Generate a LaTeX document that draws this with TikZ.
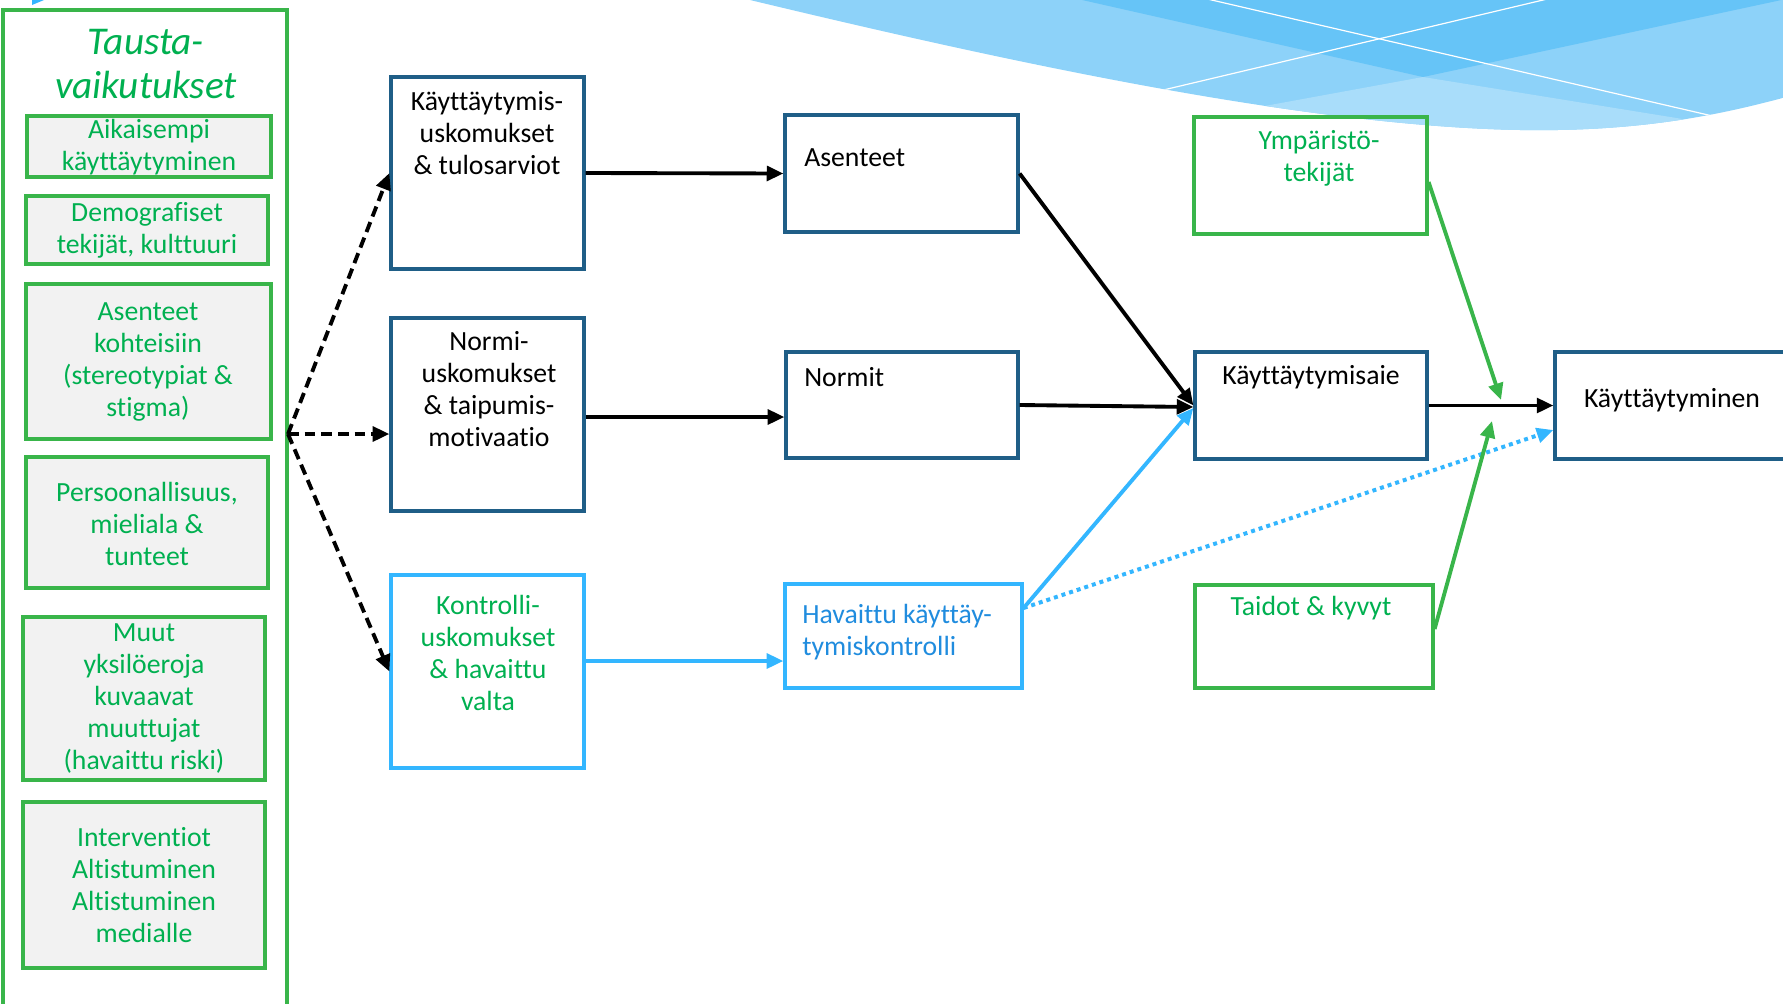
\documentclass[tikz,border=0pt]{standalone}
\usepackage{fontspec}
\setmainfont{Carlito}[Ligatures=NoCommon]
\usetikzlibrary{arrows.meta}
\newcommand\pxu{0.75pt}
\definecolor{tgreen}{RGB}{0,176,80}
\definecolor{bgreen}{RGB}{57,181,74}
\definecolor{dblue}{RGB}{31,94,135}
\definecolor{lblue}{RGB}{51,182,255}
\definecolor{hblue}{RGB}{32,140,222}
\definecolor{wdark}{RGB}{102,196,247}
\definecolor{wmid}{RGB}{141,210,249}
\definecolor{wlight}{RGB}{169,221,250}
\definecolor{fillgray}{RGB}{242,242,242}
\begin{document}
\begin{tikzpicture}[x=0.75pt,y=-0.75pt,
  txt/.style={font=\fontsize{20.8}{24}\selectfont, align=center, inner sep=0pt},
  gtxt/.style={txt, text=tgreen},
  gbox/.style={draw=bgreen, line width=2.4pt, fill=fillgray, inner sep=0pt},
  obox/.style={draw=bgreen, line width=2.4pt, inner sep=0pt},
  dbox/.style={draw=dblue, line width=2.4pt, inner sep=0pt},
  lbox/.style={draw=lblue, line width=2.4pt, inner sep=0pt},
  arr/.style={-{Triangle[length=12.5pt,width=11pt]}, line width=2.9pt},
  darr/.style={arr, dash pattern=on 8pt off 4.5pt},
  barr/.style={arr, draw=lblue, fill=lblue},
  garr/.style={arr, draw=bgreen, fill=bgreen},
  dotarr/.style={-{Triangle[length=12.5pt,width=11pt]}, line width=3pt, draw=lblue, dash pattern=on 3pt off 3pt},
]
\useasboundingbox (0,0) rectangle (1783,1003);
% background wave
\begin{scope}
\clip (750,0) .. controls (1000,60) and (1300,126) .. (1520,130) .. controls (1640,132) and (1720,115) .. (1790,96) -- (1790,-5) -- (750,-5) -- cycle;
\fill[wmid] (700,-10) rectangle (1800,200);
\fill[wlight] (1150,127) -- (1423,77) -- (1800,138) -- (1800,200) -- (1150,200) -- cycle;
\fill[wdark] (1060,-5) -- (1423,77) -- (1800,-4) -- cycle;
\draw[white, line width=0.9pt] (1100,105) -- (1560,-4);
\draw[white, line width=0.9pt] (1190,-5) -- (1760,127);
\end{scope}
\fill[lblue] (32,0) -- (44,0) -- (32,5) -- cycle;

% left panel
\node[obox, minimum width=284*\pxu, minimum height=1010*\pxu] (outer) at (145,515) {};
\node[txt, text=tgreen, font=\fontsize{29.5}{33}\selectfont\itshape] (title) at (146,64) {Tausta-\\vaikutukset};
\node[gbox, minimum width=244*\pxu, minimum height=61*\pxu] (b1) at (149,146.5) {};
\node[gtxt] (t1) at (149,147) {Aikaisempi\\käyttäytyminen};
\node[gbox, minimum width=242*\pxu, minimum height=68*\pxu] (b2) at (147,230) {};
\node[gtxt] (t2) at (147,230) {Demografiset\\tekijät, kulttuuri};
\node[gbox, minimum width=245*\pxu, minimum height=155*\pxu] (b3) at (148.5,361.5) {};
\node[gtxt] (t3) at (148,362) {Asenteet\\kohteisiin\\(stereotypiat \&\\stigma)};
\node[gbox, minimum width=242*\pxu, minimum height=131*\pxu] (b4) at (147,522.5) {};
\node[gtxt] (t4) at (147,523.5) {Persoonallisuus,\\mieliala \&\\tunteet};
\node[gbox, minimum width=242*\pxu, minimum height=163*\pxu] (b5) at (144,698.5) {};
\node[gtxt] (t5) at (144,698.5) {Muut\\yksilöeroja\\kuvaavat\\muuttujat\\(havaittu riski)};
\node[gbox, minimum width=242*\pxu, minimum height=166*\pxu] (b6) at (144,885) {};
\node[gtxt] (t6) at (144,885) {Interventiot\\Altistuminen\\Altistuminen\\medialle};

% middle column
\node[dbox, minimum width=193*\pxu, minimum height=192*\pxu] (kb) at (487.5,173) {};
\node[txt] (kbt) at (487,133.5) {Käyttäytymis-\\uskomukset\\\& tulosarviot};
\node[dbox, minimum width=193*\pxu, minimum height=193*\pxu] (nb) at (487.5,414.5) {};
\node[txt] (nbt) at (489,389) {Normi-\\uskomukset\\\& taipumis-\\motivaatio};
\node[lbox, minimum width=193*\pxu, minimum height=193*\pxu] (cb) at (487.5,671.5) {};
\node[gtxt] (cbt) at (488,653) {Kontrolli-\\uskomukset\\\& havaittu\\valta};

% second column
\node[dbox, minimum width=233*\pxu, minimum height=117*\pxu] (ab) at (901.5,173.5) {};
\node[txt, anchor=west] (abt) at (804,158) {Asenteet};
\node[dbox, minimum width=232*\pxu, minimum height=106*\pxu] (nob) at (902,405) {};
\node[txt, anchor=west] (nobt) at (804,377) {Normit};
\node[lbox, minimum width=237*\pxu, minimum height=104*\pxu] (hb) at (903.5,636) {};
\node[txt, anchor=west, align=left, text=hblue] (hbt) at (802,632) {Havaittu käyttäy-\\tymiskontrolli};

% third column
\node[obox, minimum width=233*\pxu, minimum height=117*\pxu] (yb) at (1310.5,175.5) {};
\node[gtxt] (ybt) at (1319,158) {Ympäristö-\\tekijät};
\node[dbox, minimum width=232*\pxu, minimum height=107*\pxu] (aie) at (1311,405.5) {};
\node[txt] (aiet) at (1311,377) {Käyttäytymisaie};
\node[obox, minimum width=238*\pxu, minimum height=103*\pxu] (tb) at (1314,636.5) {};
\node[gtxt] (tbt) at (1311,608) {Taidot \& kyvyt};
\node[dbox, minimum width=245*\pxu, minimum height=107*\pxu] (kt) at (1677.5,405.5) {};
\node[txt] (ktt) at (1672,400) {Käyttäytyminen};

% connectors
\coordinate (hub) at (288,434);
\draw[darr] (hub) -- (kb.west);
\draw[darr] (hub) -- (nb.west |- hub);
\draw[darr] (hub) -- (cb.west);

\draw[arr] (kb.east) -- (ab.west);
\draw[arr] (nb.east |- 0,417) -- (nob.west |- 0,417);
\draw[barr] (cb.east |- 0,661) -- (hb.west |- 0,661);

\draw[arr] (ab.east) -- (aie.west);
\draw[arr] (nob.east) -- (aie.west |- 0,407);
\draw[barr] (hb.east |- 0,608) -- (aie.west |- 0,408);
\draw[dotarr] (hb.east |- 0,608) -- (kt.west |- 0,430);
\draw[arr] (aie.east) -- (kt.west);

\coordinate (ye) at (1501,400);
\coordinate (te) at (1492,421);
\draw[garr] (yb.east |- 0,182) -- (ye);
\draw[garr] (tb.east |- 0,629) -- (te);
\end{tikzpicture}
\end{document}
